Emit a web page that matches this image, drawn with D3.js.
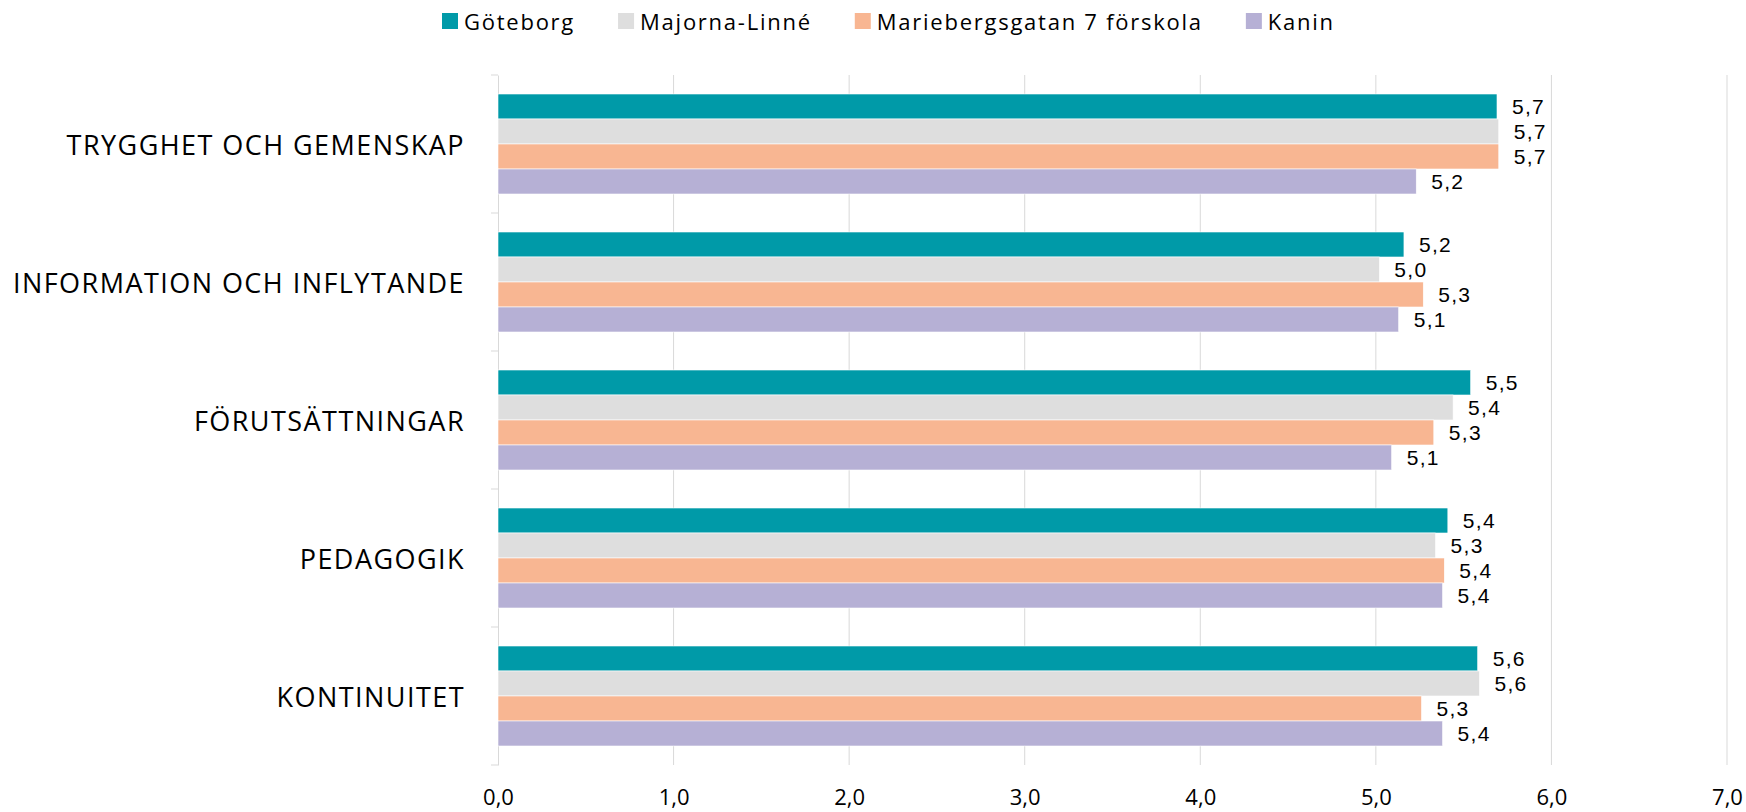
<!DOCTYPE html>
<html><head><meta charset="utf-8">
<script src="https://cdn.jsdelivr.net/npm/d3@7"></script>
<style>
html,body{margin:0;padding:0;background:#fff;}
svg{display:block;}
</style></head>
<body>
<svg id="chart" width="1746" height="812"></svg>
<script>
const categories = ["TRYGGHET OCH GEMENSKAP","INFORMATION OCH INFLYTANDE","FÖRUTSÄTTNINGAR","PEDAGOGIK","KONTINUITET"];
const seriesNames = ["Göteborg","Majorna-Linné","Mariebergsgatan 7 förskola","Kanin"];
const goteborg = [5.69, 5.16, 5.54, 5.41, 5.58];
const majorna = [5.70, 5.02, 5.44, 5.34, 5.59];
const marieberg = [5.70, 5.27, 5.33, 5.39, 5.26];
const kanin = [5.23, 5.13, 5.09, 5.38, 5.38];
const xTicks = [0,1,2,3,4,5,6,7];
const colors = ["#009AA8","#DEDEDE","#F8B692","#B6B0D5"];

const seriesValues = [goteborg, majorna, marieberg, kanin];
const svg = d3.select("#chart");
const margin = {left:498, right:19, top:75, bottom:47};
const W = 1746, H = 812;
const x = d3.scaleLinear().domain([0,7]).range([margin.left, W - margin.right]);
const y = d3.scaleBand().domain(categories).range([margin.top, H - margin.bottom]).paddingInner(0).paddingOuter(0);
const inner = d3.scaleBand().domain(d3.range(seriesNames.length)).range([0, y.bandwidth()]).paddingInner(0).paddingOuter(0.76);
const fmt = v => d3.format(".1f")(v).replace(".", ",");

// gridlines
svg.append("g").selectAll("line").data(xTicks.slice(1)).join("line")
  .attr("x1", d => x(d)).attr("x2", d => x(d))
  .attr("y1", margin.top).attr("y2", H - margin.bottom)
  .attr("stroke", "#d9d9d9").attr("stroke-width", 1);

// left axis line + category ticks
const yAxis = d3.axisLeft(y).tickSize(0).tickFormat("");
const ya = svg.append("g").attr("transform", `translate(${margin.left},0)`).call(yAxis);
ya.select(".domain").attr("stroke", "#d9d9d9");
const bounds = categories.map(c => y(c)).concat([y(categories[categories.length-1]) + y.bandwidth()]);
svg.append("g").selectAll("line").data(bounds).join("line")
  .attr("x1", margin.left - 7).attr("x2", margin.left)
  .attr("y1", d => d).attr("y2", d => d)
  .attr("stroke", "#d9d9d9").attr("stroke-width", 1);

// category labels
svg.append("g").selectAll("text").data(categories).join("text")
  .attr("x", margin.left - 33).attr("y", d => y(d) + y.bandwidth()/2)
  .attr("text-anchor", "end").attr("dominant-baseline", "central")
  .attr("font-family", "'Open Sans', sans-serif").attr("font-size", 27)
  .attr("letter-spacing", 1.45).attr("fill", "#000")
  .text(d => d);

// bars
const gBars = svg.append("g");
seriesValues.forEach((vals, si) => {
  gBars.append("g").selectAll("rect").data(vals).join("rect")
    .attr("x", x(0)).attr("y", (d,i) => y(categories[i]) + inner(si))
    .attr("width", d => x(d) - x(0)).attr("height", inner.bandwidth())
    .attr("fill", colors[si]).attr("stroke", "#fff").attr("stroke-width", 0.6);
  gBars.append("g").selectAll("text").data(vals).join("text")
    .attr("x", d => x(d) + 15).attr("y", (d,i) => y(categories[i]) + inner(si) + inner.bandwidth()/2)
    .attr("dominant-baseline", "central")
    .attr("font-family", "'Liberation Sans', Arial, sans-serif").attr("font-size", 21)
    .attr("letter-spacing", 1.3).attr("fill", "#000")
    .text(d => fmt(d));
});

// x axis labels
const xAxis = d3.axisBottom(x).tickValues(xTicks).tickSize(0).tickPadding(0).tickFormat(fmt);
const xa = svg.append("g").attr("transform", `translate(0,${H - margin.bottom})`).call(xAxis);
xa.select(".domain").remove();
xa.selectAll("text").attr("font-family", "'Open Sans', sans-serif").attr("font-size", 22)
  .attr("fill", "#000").attr("dy", null).attr("y", 31).attr("dominant-baseline", "central");

// legend (flow layout)
const lg = svg.append("g").attr("transform", "translate(442,21)");
let cx = 0;
seriesNames.forEach((n, i) => {
  const g = lg.append("g").attr("transform", `translate(${cx},0)`);
  g.append("rect").attr("x", 0).attr("y", -8).attr("width", 16).attr("height", 16).attr("fill", colors[i]);
  const t = g.append("text").attr("x", 22).attr("y", 0).attr("dominant-baseline", "central")
    .attr("font-family", "'Open Sans', sans-serif").attr("font-size", 22).attr("letter-spacing", 1.75)
    .attr("fill", "#000").text(n);
  cx += 22 + t.node().getComputedTextLength() + 43;
});
</script>
</body></html>
